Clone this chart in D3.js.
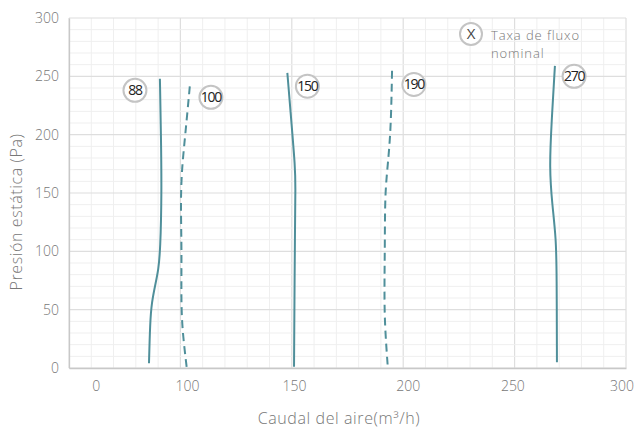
<!DOCTYPE html>
<html>
<head>
<meta charset="utf-8">
<script src="https://cdn.jsdelivr.net/npm/d3@7"></script>
<style>
  body { margin: 0; background: #fff; }
  svg { display: block; font-family: 'Open Sans', sans-serif; }
</style>
</head>
<body>
<div id="chart"></div>
<script>
// curve readings: [flow m3/h, pressure Pa]
const curve88 = [[85.9, 4], [86.4, 39], [87.1, 56], [88.9, 73], [90.1, 84], [91, 101], [91.6, 150], [91.3, 198], [90.8, 248]];
const curve100 = [[102.8, 1], [101, 30], [100.3, 56], [100.6, 101], [100.1, 141], [100.6, 170], [102.1, 198], [104.3, 243]];
const curve150 = [[151, 1], [151.1, 31], [151.4, 117], [151.7, 157], [151.4, 174], [150.2, 202], [148, 253]];
const curve190 = [[193, 3], [191.8, 35], [191.5, 64], [191.8, 107], [191.8, 150], [193.3, 178], [194.5, 207], [195, 255]];
const curve270 = [[269, 5], [268.9, 82], [268.6, 111], [266.9, 140], [265.6, 171], [266.6, 211], [268.1, 259]];

const curveNames = ['88', '100', '150', '190', '270'];
const curveDashed = [false, true, false, true, false];
const labelFlow = [79.6, 113.7, 157, 204.8, 276.7];
const labelPressure = [238, 232, 241.5, 243, 250];

const xTickValues = [62, 103, 151, 202, 249, 298];
const xTickLabels = ['0', '100', '150', '200', '250', '300'];
const yTickValues = [0, 50, 100, 150, 200, 250, 300];

const legendText = ['Taxa de fluxo', 'nominal'];

const width = 635, height = 430;
const margin = {top: 18, right: 9, bottom: 62, left: 69};
const teal = '#4f8f9a';

const svg = d3.select('#chart').append('svg')
    .attr('width', width)
    .attr('height', height);

const x = d3.scaleLinear().domain([50, 300]).range([margin.left, width - margin.right]);
const y = d3.scaleLinear().domain([0, 300]).range([height - margin.bottom, margin.top]);

// grid
const grid = svg.append('g');
grid.selectAll('line.vminor')
    .data(d3.range(50, 301, 10))
    .enter().append('line')
    .attr('x1', d => x(d)).attr('x2', d => x(d))
    .attr('y1', y(0)).attr('y2', y(300))
    .attr('stroke', d => d % 50 === 0 ? '#dedede' : '#efefef')
    .attr('stroke-width', d => d % 50 === 0 ? 1.2 : 1);
grid.selectAll('line.hminor')
    .data(d3.range(0, 301, 10))
    .enter().append('line')
    .attr('x1', x(50)).attr('x2', x(300))
    .attr('y1', d => y(d)).attr('y2', d => y(d))
    .attr('stroke', d => d % 50 === 0 ? '#dedede' : '#efefef')
    .attr('stroke-width', d => d % 50 === 0 ? 1.2 : 1);

// axes
const xAxis = svg.append('g')
    .attr('transform', 'translate(0,' + y(0) + ')')
    .call(d3.axisBottom(x).tickValues(xTickValues).tickSize(0).tickPadding(13)
        .tickFormat((d, i) => xTickLabels[i]));
const yAxis = svg.append('g')
    .attr('transform', 'translate(' + x(50) + ',0)')
    .call(d3.axisLeft(y).tickValues(yTickValues).tickSize(0).tickPadding(10));
[xAxis, yAxis].forEach(a => {
    a.select('.domain').attr('stroke', '#c8c8c8').attr('stroke-width', 1.3);
    a.selectAll('text').attr('fill', '#777').style('font-size', '14px').style('font-weight', 300)
        .style('font-family', "'Open Sans', sans-serif");
});

svg.append('text')
    .attr('x', 339).attr('y', 424)
    .attr('text-anchor', 'middle')
    .attr('fill', '#777')
    .style('font-size', '16px').style('font-weight', 300)
    .style('letter-spacing', '0.6px')
    .text('Caudal del aire(m³/h)');
svg.append('text')
    .attr('transform', 'translate(22,' + 212 + ')rotate(-90)')
    .attr('text-anchor', 'middle')
    .attr('fill', '#777')
    .style('font-size', '16px').style('font-weight', 300)
    .style('letter-spacing', '0.6px')
    .text('Presión estática (Pa)');

// curves
const line = d3.line()
    .x(d => x(d[0]))
    .y(d => y(d[1]))
    .curve(d3.curveBasis);
const curves = [curve88, curve100, curve150, curve190, curve270];
svg.selectAll('path.curve')
    .data(curves)
    .enter().append('path')
    .attr('class', 'curve')
    .attr('d', line)
    .attr('fill', 'none')
    .attr('stroke', teal)
    .attr('stroke-width', 2)
    .attr('stroke-dasharray', (d, i) => curveDashed[i] ? '8,5' : null);

// labels
const labels = svg.selectAll('g.label')
    .data(curveNames)
    .enter().append('g')
    .attr('transform', (d, i) => 'translate(' + x(labelFlow[i]) + ',' + y(labelPressure[i]) + ')');
labels.append('circle')
    .attr('r', 11.5)
    .attr('fill', '#fff')
    .attr('stroke', '#c4c4c4')
    .attr('stroke-width', 2);
labels.append('text')
    .attr('text-anchor', 'middle')
    .attr('dy', '0.35em')
    .attr('fill', '#222')
    .style('font-size', '14px')
    .style('letter-spacing', '-1.2px')
    .text(d => d);

// legend
const legend = svg.append('g').attr('transform', 'translate(471,34)');
legend.append('circle')
    .attr('r', 11)
    .attr('fill', '#fff')
    .attr('stroke', '#c4c4c4')
    .attr('stroke-width', 2);
legend.append('text')
    .attr('text-anchor', 'middle')
    .attr('dy', '0.36em')
    .attr('fill', '#444')
    .style('font-size', '15px')
    .text('X');
legend.selectAll('text.lt')
    .data(legendText)
    .enter().append('text')
    .attr('class', 'lt')
    .attr('x', 20)
    .attr('y', (d, i) => 6 + i * 18)
    .attr('fill', '#777')
    .style('font-size', '13px').style('font-weight', 300)
    .style('letter-spacing', '0.9px')
    .text(d => d);
</script>
</body>
</html>
